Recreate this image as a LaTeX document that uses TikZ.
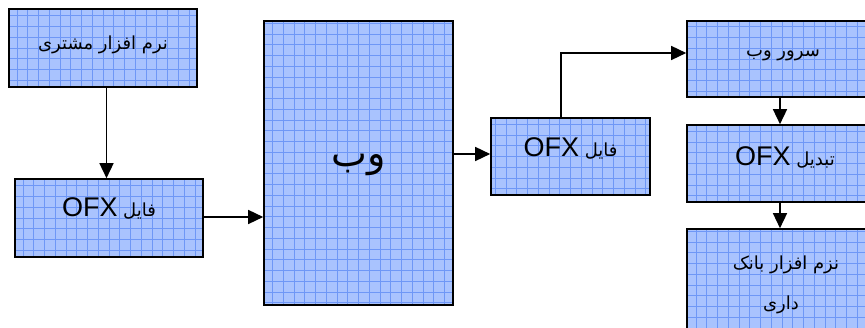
\documentclass[tikz,border=0pt]{standalone}
\usepackage{fontspec}
\usetikzlibrary{arrows.meta}
\TeXXeTstate=1
\newfontfamily\arabicfont[Script=Arabic]{DejaVu Sans}
\newfontfamily\latinfont{Liberation Sans}
\definecolor{boxfill}{HTML}{A9C3FE}
\definecolor{gridblue}{HTML}{6E97F6}
\newcommand{\ofx}{{\fontsize{27pt}{27pt}\latinfont OFX}}
\tikzset{
  box/.style={draw=black, line width=1.6pt, fill=boxfill, inner sep=0pt,
    path picture={\draw[gridblue, line width=0.9pt, step=10.75pt]
      (path picture bounding box.south west) grid (path picture bounding box.north east);}},
  lbl/.style={font=\fontsize{18pt}{18pt}\arabicfont},
  arr/.style={line width=1.5pt, -{Triangle[length=15pt,width=14pt]}}
}
\begin{document}
\begin{tikzpicture}[x=1pt,y=-1pt]
\useasboundingbox (0,0) rectangle (865,328);
% boxes
\node[box, minimum width=188pt, minimum height=78pt] (client) at (103,48) {};
\node[box, minimum width=188pt, minimum height=78pt] (file1) at (109,218) {};
\node[box, minimum width=189pt, minimum height=284pt] (web) at (358.5,163) {};
\node[box, minimum width=159pt, minimum height=77pt] (file2) at (570.5,156.5) {};
\node[box, minimum width=190pt, minimum height=76pt] (server) at (782,59) {};
\node[box, minimum width=190pt, minimum height=77pt] (conv) at (782,163.5) {};
\node[box, minimum width=190pt, minimum height=112pt] (bank) at (782,285) {};
% texts
\node[lbl] (tclient) at (103,45) {\beginR نرم افزار مشتری\endR};
\node[lbl] (tfile1) at (109,208) {\beginR فایل \beginL\ofx\endL\endR};
\node[lbl, font=\fontsize{38pt}{38pt}\arabicfont] (tweb) at (358.5,165) {\beginR وب\endR};
\node[lbl] (tfile2) at (570.5,148) {\beginR فایل \beginL\ofx\endL\endR};
\node[lbl] (tserver) at (783,55) {\beginR سرور وب\endR};
\node[lbl] (tconv) at (785,157) {\beginR تبدیل \beginL\ofx\endL\endR};
\node[lbl] (tbank1) at (786,265) {\beginR نزم افزار بانک\endR};
\node[lbl] (tbank2) at (781,305) {\beginR داری\endR};
% connectors
\draw[arr] ([xshift=3.5pt]client.south) -- ([xshift=-2.5pt]file1.north);
\draw[arr] ([yshift=1pt]file1.east) -- ([yshift=1pt]file1.east -| web.west);
\draw[arr] ([yshift=2.5pt]file2.west -| web.east) -- ([yshift=2.5pt]file2.west);
\draw[arr] ([xshift=-9.5pt]file2.north) |- ([yshift=6pt]server.west);
\draw[arr] ([xshift=-2pt]server.south) -- ([xshift=-2pt]conv.north);
\draw[arr] ([xshift=-2pt]conv.south) -- ([xshift=-2pt]bank.north);
\end{tikzpicture}
\end{document}
